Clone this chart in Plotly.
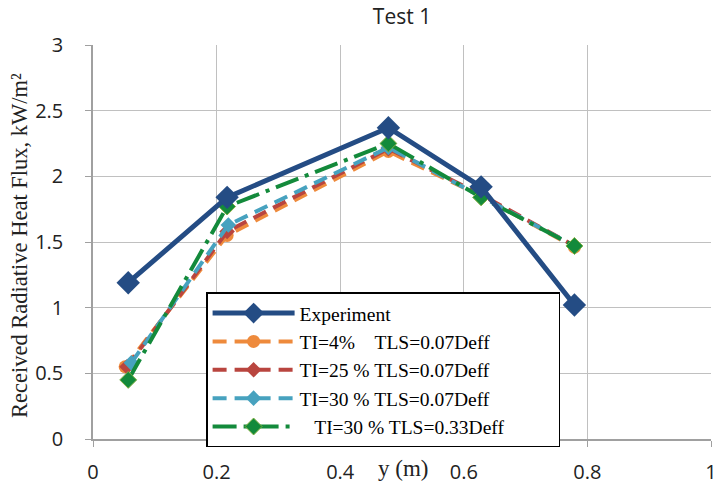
import plotly.graph_objects as go

# Data
x_exp = [0.057, 0.217, 0.478, 0.628, 0.779]
y_exp = [1.19, 1.84, 2.37, 1.92, 1.02]

x_ti4 = [0.052, 0.217, 0.478, 0.628, 0.779]
y_ti4 = [0.55, 1.55, 2.19, 1.85, 1.46]

x_ti25 = [0.055, 0.217, 0.478, 0.628, 0.779]
y_ti25 = [0.55, 1.58, 2.21, 1.86, 1.47]

x_ti30 = [0.062, 0.219, 0.478, 0.628, 0.779]
y_ti30 = [0.58, 1.63, 2.22, 1.85, 1.47]

x_ti30b = [0.057, 0.217, 0.478, 0.628, 0.779]
y_ti30b = [0.45, 1.77, 2.25, 1.84, 1.47]

NB = "\u00a0"
names = [
    "Experiment",
    "TI=4%" + NB * 4 + "TLS=0.07Deff",
    "TI=25 % TLS=0.07Deff",
    "TI=30 % TLS=0.07Deff",
    NB * 3 + "TI=30 % TLS=0.33Deff" + NB * 10,
]

xticks = [0, 0.2, 0.4, 0.6, 0.8, 1]
yticks = [0, 0.5, 1, 1.5, 2, 2.5, 3]

fig = go.Figure()
fig.add_trace(go.Scatter(x=x_ti4, y=y_ti4, name=names[1], mode="lines+markers",
                         line=dict(color="#EE8A3C", width=4, dash="14px,8px"),
                         marker=dict(symbol="circle", size=13, color="#EE8A3C")))
fig.add_trace(go.Scatter(x=x_ti25, y=y_ti25, name=names[2], mode="lines+markers",
                         line=dict(color="#B9453F", width=4, dash="14px,8px"),
                         marker=dict(symbol="diamond", size=12, color="#B9453F")))
fig.add_trace(go.Scatter(x=x_ti30, y=y_ti30, name=names[3], mode="lines+markers",
                         line=dict(color="#47A2BF", width=4, dash="14px,8px"),
                         marker=dict(symbol="diamond", size=12, color="#47A2BF")))
fig.add_trace(go.Scatter(x=x_ti30b, y=y_ti30b, name=names[4], mode="lines+markers",
                         line=dict(color="#138A3B", width=4, dash="24px,7px,4px,7px"),
                         marker=dict(symbol="diamond", size=13, color="#138A3B",
                                     line=dict(color="#7FAE3F", width=1))))
fig.add_trace(go.Scatter(x=x_exp, y=y_exp, name=names[0], mode="lines+markers",
                         line=dict(color="#244C84", width=5),
                         marker=dict(symbol="diamond", size=18, color="#244C84")))

fig.update_layout(
    width=720, height=488,
    margin=dict(l=93, r=3, t=45, b=48),
    paper_bgcolor="white", plot_bgcolor="white",
    showlegend=True,
    legend=dict(
        x=0.183, y=0.372, xanchor="left", yanchor="top",
        bgcolor="white", bordercolor="black", borderwidth=1.5,
        font=dict(family="Liberation Serif", size=19.5, color="black"),
        traceorder="normal",
        itemwidth=82,
    ),
    title=dict(text="Test 1", x=0.5, xref="paper", y=0.965, yref="container",
               xanchor="center", yanchor="middle",
               font=dict(family="Open Sans", size=21, color="#222222")),
    xaxis=dict(range=[0, 1], tickvals=xticks, ticktext=[("%g" % v) for v in xticks],
               showgrid=True, gridcolor="#C0C0C0", gridwidth=1.3,
               showline=True, linecolor="#A0A0A0", linewidth=1.5,
               ticks="outside", ticklen=6, tickcolor="#A0A0A0",
               ticklabelstandoff=8, ticklabeloverflow="allow",
               tickfont=dict(family="Open Sans", size=20, color="#222222"),
               zeroline=False),
    yaxis=dict(range=[0, 3], tickvals=yticks, ticktext=[("%g" % v) for v in yticks],
               showgrid=True, gridcolor="#C0C0C0", gridwidth=1.3,
               showline=True, linecolor="#A0A0A0", linewidth=1.5,
               ticks="outside", ticklen=6, tickcolor="#A0A0A0",
               ticklabelstandoff=18,
               tickfont=dict(family="Open Sans", size=20, color="#222222"),
               zeroline=False),
    annotations=[
        dict(text="Received Radiative Heat Flux, kW/m\u00b2", textangle=-90,
             xref="paper", yref="paper", x=-0.118, y=0.49,
             xanchor="center", yanchor="middle", showarrow=False,
             font=dict(family="Liberation Serif", size=22.5, color="#222222")),
        dict(text="y (m)", xref="paper", yref="paper", x=0.502, y=-0.076,
             xanchor="center", yanchor="middle", showarrow=False,
             font=dict(family="Liberation Serif", size=23, color="#222222")),
    ],
)

# Legend order: experiment first
for i, tr in enumerate(fig.data):
    tr.legendrank = 1 if tr.name == "Experiment" else 2 + i

fig.write_html("out.html")
